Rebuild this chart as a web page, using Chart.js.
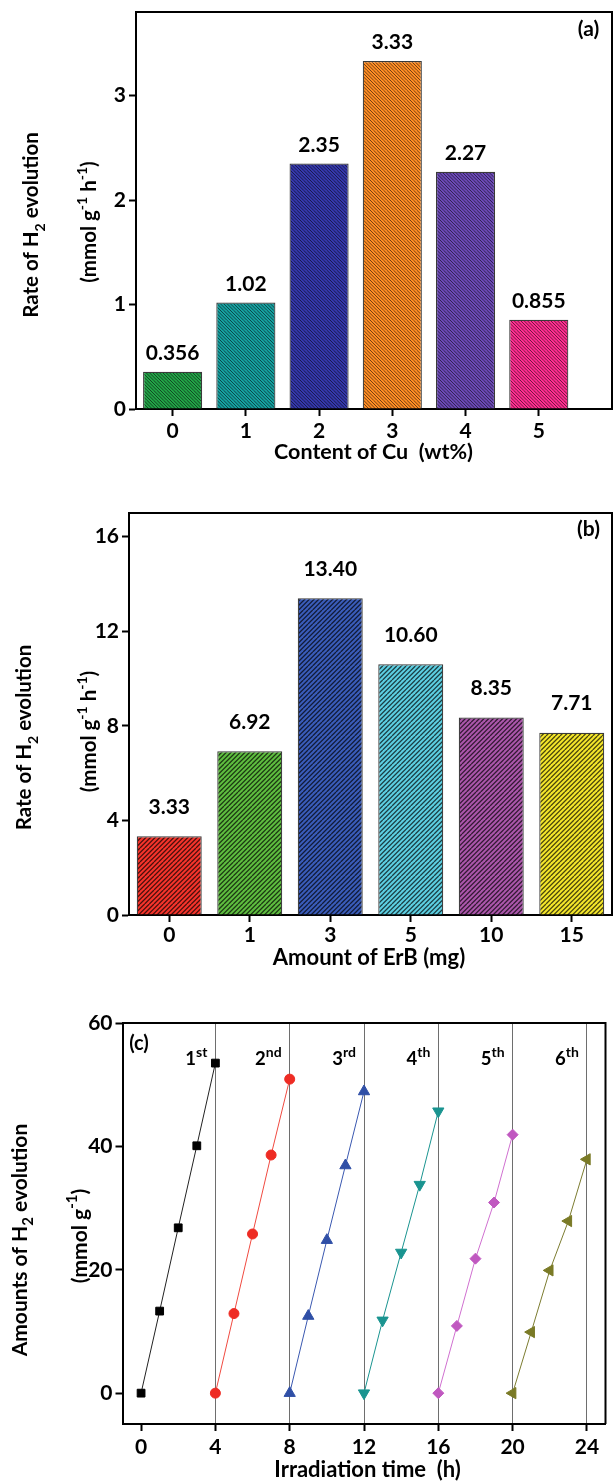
<!DOCTYPE html>
<html><head><meta charset="utf-8">
<script src="https://cdn.jsdelivr.net/npm/chart.js@4.4.1/dist/chart.umd.min.js"></script>
<style>
html,body{margin:0;padding:0;background:#fff;}
#wrap{position:relative;width:613px;height:1483px;overflow:hidden;background:#fff;}
canvas{position:absolute;left:0;}
</style></head><body>
<div id="wrap">
<canvas id="ca" width="613" height="490" style="top:-20px"></canvas>
<canvas id="cb" width="613" height="500" style="top:470px"></canvas>
<canvas id="cc" width="613" height="513" style="top:970px"></canvas>
</div>
<script>
// ---------- data ----------
const cuContent = [0, 1, 2, 3, 4, 5];
const cuRate = [0.356, 1.02, 2.35, 3.33, 2.27, 0.855];
const cuRateLabels = ['0.356', '1.02', '2.35', '3.33', '2.27', '0.855'];
const cuYTicks = [0, 1, 2, 3];

const erbAmount = ['0', '1', '3', '5', '10', '15'];
const erbRate = [3.33, 6.92, 13.40, 10.60, 8.35, 7.71];
const erbRateLabels = ['3.33', '6.92', '13.40', '10.60', '8.35', '7.71'];
const erbYTicks = [0, 4, 8, 12, 16];

const cycleNames = [['1', 'st'], ['2', 'nd'], ['3', 'rd'], ['4', 'th'], ['5', 'th'], ['6', 'th']];
const cycle1Time = [0, 1, 2, 3, 4];
const cycle2Time = [4, 5, 6, 7, 8];
const cycle3Time = [8, 9, 10, 11, 12];
const cycle4Time = [12, 13, 14, 15, 16];
const cycle5Time = [16, 17, 18, 19, 20];
const cycle6Time = [20, 21, 22, 23, 24];
const cycle1H2 = [0, 13.3, 26.8, 40.1, 53.5];
const cycle2H2 = [0, 12.9, 25.8, 38.6, 50.9];
const cycle3H2 = [0, 12.5, 24.8, 36.9, 48.9];
const cycle4H2 = [0, 11.8, 22.8, 33.8, 45.7];
const cycle5H2 = [0, 10.9, 21.8, 30.9, 41.9];
const cycle6H2 = [0, 9.9, 19.9, 27.9, 37.9];
const timeTicks = [0, 4, 8, 12, 16, 20, 24];
const amountTicks = [0, 20, 40, 60];

// ---------- styles ----------
const FONT = 'Lato, "Open Sans", sans-serif';
const cuColors = ['#22a247', '#16a0a0', '#3538ac', '#ff8d24', '#6b49b6', '#ff2e90'];
const erbColors = ['#f6342b', '#5ebd3f', '#3a5cba', '#5ccfe2', '#ab56ab', '#f4e62a'];
const cycleTimes = [cycle1Time, cycle2Time, cycle3Time, cycle4Time, cycle5Time, cycle6Time];
const cycleH2 = [cycle1H2, cycle2H2, cycle3H2, cycle4H2, cycle5H2, cycle6H2];
const cycleLine = ['#222222', '#f04a40', '#3a58b0', '#1a9490', '#d070d0', '#7c7c30'];
const cycleMarker = ['#000000', '#ee2c24', '#2f4fa6', '#1a9490', '#c058c0', '#7a7a26'];
const cycleStyle = ['rect', 'circle', 'triangle', 'triangle', 'rectRot', 'triangle'];
const cycleRot = [0, 0, 0, 180, 0, 270];
const cycleRadius = [5.5, 5, 6.5, 6.5, 5.5, 6.5];

function hatch(color, tile, n, dir, lw, lineColor) {
  const c = document.createElement('canvas');
  c.width = tile; c.height = tile;
  const g = c.getContext('2d');
  g.fillStyle = color; g.fillRect(0, 0, tile, tile);
  g.strokeStyle = lineColor; g.lineWidth = lw;
  const step = tile / n;
  g.beginPath();
  for (let k = -n; k <= 2 * n; k++) {
    const o = k * step;
    if (dir === '\\') { g.moveTo(o, 0); g.lineTo(o + tile, tile); }
    else { g.moveTo(o, tile); g.lineTo(o + tile, 0); }
  }
  g.stroke();
  return g.createPattern(c, 'repeat');
}

function rich(ctx, segs, cx, cy, size, rot, align, ratio) {
  const small = Math.round(size * (ratio || 0.7));
  ctx.save();
  ctx.translate(cx, cy);
  ctx.rotate(rot || 0);
  ctx.fillStyle = '#000';
  ctx.textBaseline = 'alphabetic';
  ctx.textAlign = 'left';
  let w = 0;
  const parts = segs.map(([t, k]) => {
    ctx.font = `bold ${k ? small : size}px ${FONT}`;
    const m = ctx.measureText(t).width;
    w += m;
    return { t, k, m };
  });
  let x = align === 'right' ? -w : (align === 'left' ? 0 : -w / 2);
  const base = size * 0.36;
  for (const p of parts) {
    ctx.font = `bold ${p.k ? small : size}px ${FONT}`;
    const dy = p.k === -1 ? size * 0.3 : (p.k === 1 ? -size * 0.45 : 0);
    ctx.fillText(p.t, x, base + dy);
    x += p.m;
  }
  ctx.restore();
}

const frame = {
  id: 'frame',
  afterDraw(ch) {
    const { ctx, chartArea: a } = ch;
    ctx.save();
    ctx.strokeStyle = '#000'; ctx.lineWidth = 2;
    ctx.beginPath();
    ctx.moveTo(a.left, a.top); ctx.lineTo(a.right, a.top); ctx.lineTo(a.right, a.bottom);
    ctx.stroke();
    ctx.restore();
  }
};

function tickFont() { return { family: FONT, size: 21, weight: 'bold' }; }
const V = -Math.PI / 2;

// ---------- panel (a) ----------
new Chart(document.getElementById('ca'), {
  type: 'bar',
  data: {
    datasets: [{
      data: cuContent.map((x, i) => ({ x, y: cuRate[i] })),
      backgroundColor: cuColors.map(c => hatch(c, 10, 3, '\\', 1, 'rgba(0,0,0,0.55)')),
      borderColor: '#3a3a3a', borderWidth: 1.2,
      barPercentage: 0.807, categoryPercentage: 1
    }]
  },
  options: {
    responsive: false, animation: false, devicePixelRatio: 1,
    layout: { padding: { top: 32, right: 1, left: 0, bottom: 0 } },
    plugins: { legend: { display: false }, tooltip: { enabled: false } },
    scales: {
      x: {
        type: 'linear', min: -0.5, max: 6.0, offset: false,
        afterBuildTicks: s => { s.ticks = cuContent.map(v => ({ value: v })); },
        afterFit: s => { s.height = 61; },
        ticks: { font: tickFont(), color: '#000', padding: 3, callback: v => String(v) },
        grid: { offset: false, drawOnChartArea: false, tickLength: 7, tickColor: '#000', tickWidth: 2 },
        border: { color: '#000', width: 2 }
      },
      y: {
        min: 0, max: 3.8,
        afterBuildTicks: s => { s.ticks = cuYTicks.map(v => ({ value: v })); },
        afterFit: s => { s.width = 136; },
        ticks: { font: tickFont(), color: '#000', padding: 3 },
        grid: { drawOnChartArea: false, tickLength: 7, tickColor: '#000', tickWidth: 2 },
        border: { color: '#000', width: 2 }
      }
    }
  },
  plugins: [frame, {
    id: 'txtA',
    afterDraw(ch) {
      const ctx = ch.ctx;
      const meta = ch.getDatasetMeta(0);
      ctx.save();
      ctx.font = `bold 21px ${FONT}`; ctx.fillStyle = '#000';
      ctx.textAlign = 'center'; ctx.textBaseline = 'middle';
      meta.data.forEach((b, i) => ctx.fillText(cuRateLabels[i], b.x, b.y - 18.5));
      ctx.restore();
      ctx.save(); ctx.translate(0, 20);
      rich(ctx, [['(a)', 0]], 588.5, 28.5, 21, 0);
      rich(ctx, [['Content of Cu  (wt%)', 0]], 373.5, 451.5, 21.5, 0);
      rich(ctx, [['Rate of H', 0], ['2', -1], [' evolution', 0]], 31, 225, 20.5, V);
      rich(ctx, [['(mmol g', 0], ['-1', 1], [' h', 0], ['-1', 1], [')', 0]], 89, 222, 20.5, V);
      ctx.restore();
    }
  }]
});

// ---------- panel (b) ----------
new Chart(document.getElementById('cb'), {
  type: 'bar',
  data: {
    labels: erbAmount,
    datasets: [{
      data: erbRate,
      backgroundColor: erbColors.map(c => hatch(c, 14, 3, '/', 1.3, 'rgba(0,0,0,0.7)')),
      borderColor: '#3a3a3a', borderWidth: 1.2,
      barPercentage: 0.807, categoryPercentage: 1
    }]
  },
  options: {
    responsive: false, animation: false, devicePixelRatio: 1,
    layout: { padding: { top: 43, right: 1, left: 0, bottom: 0 } },
    plugins: { legend: { display: false }, tooltip: { enabled: false } },
    scales: {
      x: {
        afterFit: s => { s.height = 55; },
        ticks: { font: tickFont(), color: '#000', padding: 1 },
        grid: { offset: false, drawOnChartArea: false, tickLength: 7, tickColor: '#000', tickWidth: 2 },
        border: { color: '#000', width: 2 }
      },
      y: {
        min: 0, max: 17,
        afterBuildTicks: s => { s.ticks = erbYTicks.map(v => ({ value: v })); },
        afterFit: s => { s.width = 129; },
        ticks: { font: tickFont(), color: '#000', padding: 3 },
        grid: { drawOnChartArea: false, tickLength: 7, tickColor: '#000', tickWidth: 2 },
        border: { color: '#000', width: 2 }
      }
    }
  },
  plugins: [frame, {
    id: 'txtB',
    afterDraw(ch) {
      const ctx = ch.ctx;
      const meta = ch.getDatasetMeta(0);
      ctx.save();
      ctx.font = `bold 21px ${FONT}`; ctx.fillStyle = '#000';
      ctx.textAlign = 'center'; ctx.textBaseline = 'middle';
      meta.data.forEach((b, i) => ctx.fillText(erbRateLabels[i], b.x, b.y - 29));
      ctx.restore();
      ctx.save(); ctx.translate(0, -470);
      rich(ctx, [['(b)', 0]], 588.5, 528.5, 21, 0);
      rich(ctx, [['Amount of ErB (mg)', 0]], 369, 957, 22, 0);
      rich(ctx, [['Rate of H', 0], ['2', -1], [' evolution', 0]], 24, 737.5, 20.5, V);
      rich(ctx, [['(mmol g', 0], ['-1', 1], [' h', 0], ['-1', 1], [')', 0]], 89, 731.5, 20.5, V);
      ctx.restore();
    }
  }]
});

// ---------- panel (c) ----------
new Chart(document.getElementById('cc'), {
  type: 'line',
  data: {
    datasets: cycleH2.map((arr, i) => ({
      data: cycleTimes[i].map((t, j) => ({ x: t, y: arr[j] })),
      borderColor: cycleLine[i], borderWidth: 1,
      backgroundColor: cycleMarker[i],
      pointBackgroundColor: cycleMarker[i], pointBorderColor: cycleMarker[i], pointBorderWidth: 1,
      pointStyle: cycleStyle[i], pointRotation: cycleRot[i], pointRadius: cycleRadius[i],
      tension: 0, fill: false
    }))
  },
  options: {
    responsive: false, animation: false, devicePixelRatio: 1,
    layout: { padding: { top: 53, right: 1, left: 0, bottom: 0 } },
    plugins: { legend: { display: false }, tooltip: { enabled: false } },
    scales: {
      x: {
        type: 'linear', min: -1, max: 25,
        afterBuildTicks: s => { s.ticks = timeTicks.map(v => ({ value: v })); },
        afterFit: s => { s.height = 59; },
        ticks: { font: tickFont(), color: '#000', padding: 4 },
        grid: {
          drawOnChartArea: true, tickLength: 7, tickColor: '#000', tickWidth: 2, lineWidth: 1,
          color: c => (c.tick && c.tick.value === 0) ? 'rgba(0,0,0,0)' : '#6e6e6e'
        },
        border: { color: '#000', width: 2 }
      },
      y: {
        min: -5, max: 60,
        afterBuildTicks: s => { s.ticks = amountTicks.map(v => ({ value: v })); },
        afterFit: s => { s.width = 122.5; },
        ticks: { font: tickFont(), color: '#000', padding: 3 },
        grid: { drawOnChartArea: false, tickLength: 7, tickColor: '#000', tickWidth: 2 },
        border: { color: '#000', width: 2 }
      }
    }
  },
  plugins: [frame, {
    id: 'txtC',
    afterDraw(ch) {
      const ctx = ch.ctx;
      const xs = ch.scales.x;
      const offY = 970;
      cycleNames.forEach((nm, i) => {
        const end = cycleTimes[i][cycleTimes[i].length - 1];
        const px = xs.getPixelForValue(end) - 8;
        rich(ctx, [[nm[0], 0], [nm[1], 1]], px, 1058.5 - offY, 18.5, 0, 'right', 0.78);
      });
      ctx.save(); ctx.translate(0, -offY);
      rich(ctx, [['(c)', 0]], 139, 1043, 20, 0);
      rich(ctx, [['Irradiation time  (h)', 0]], 367.6, 1469, 22, 0);
      rich(ctx, [['Amounts of H', 0], ['2', -1], [' evolution', 0]], 19, 1240, 21, V);
      rich(ctx, [['(mmol g', 0], ['-1', 1], [')', 0]], 79, 1236, 21, V);
      ctx.restore();
    }
  }]
});
</script>
</body></html>
